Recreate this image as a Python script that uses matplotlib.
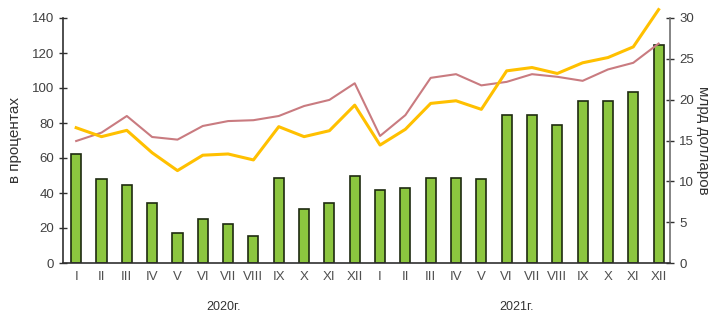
import matplotlib
matplotlib.use("Agg")
import matplotlib.pyplot as plt
import numpy as np

plt.rcParams["font.family"] = ["Liberation Sans", "DejaVu Sans"]

months = ["I", "II", "III", "IV", "V", "VI", "VII", "VIII", "IX", "X", "XI", "XII"]
labels = months + months
years = ["2020г.", "2021г."]

# bars, billion dollars (right axis)
bars_bn = [13.4, 10.3, 9.5, 7.4, 3.7, 5.4, 4.8, 3.25, 10.4, 6.6, 7.4, 10.7,
           8.95, 9.15, 10.4, 10.4, 10.3, 18.1, 18.1, 16.85, 19.85, 19.85, 20.95, 26.65]
# lines, percent (left axis)
red_pct = [69.7, 74.5, 84.0, 72.0, 70.5, 78.3, 81.1, 81.6, 84.0, 89.7, 93.2, 102.7,
           72.6, 84.5, 105.8, 107.9, 101.5, 103.5, 107.9, 106.4, 104.1, 110.6, 114.4, 125.4]
yellow_pct = [77.3, 72.2, 75.8, 63.0, 52.8, 61.6, 62.3, 58.9, 77.9, 72.2, 75.6, 90.2,
              67.4, 76.4, 91.2, 92.7, 87.8, 109.8, 111.7, 108.3, 114.4, 117.4, 123.5, 144.8]

fig = plt.figure(figsize=(7.11, 3.12), dpi=100)
ax = fig.add_axes([63/711, 1-263/312, (670-63)/711, (263-18)/312])
ax2 = ax.twinx()

x = np.arange(len(labels))
ax2.bar(x, bars_bn, width=0.4, color="#8cc63f", edgecolor="#1e2a10", linewidth=1.2, zorder=2)
ax.plot(x, red_pct, color="#c97b80", lw=1.5, zorder=3, clip_on=False)
ax.plot(x, yellow_pct, color="#ffc000", lw=2.2, zorder=4, clip_on=False)
ax.set_zorder(ax2.get_zorder() + 1)
ax.patch.set_visible(False)

ax.set_xlim(-0.52, 23.45)
ax.set_ylim(0, 140)
ax2.set_ylim(0, 30)
ax.set_yticks(range(0, 141, 20))
ax2.set_yticks(range(0, 31, 5))
ax.set_xticks(x)
ax.set_xticklabels(labels, fontsize=9.5, color="#505050")
ax.tick_params(axis="x", length=0, pad=6)
ax.tick_params(axis="y", direction="inout", length=6, width=1, labelsize=9.5, labelcolor="#404040", color="#303030")
ax2.tick_params(axis="y", direction="inout", length=6, width=1, labelsize=9.5, labelcolor="#404040", color="#303030")

for a in (ax, ax2):
    a.spines["top"].set_visible(False)
ax.spines["right"].set_visible(False)
ax2.spines["left"].set_visible(False)
ax.spines["left"].set_color("#303030")
ax2.spines["right"].set_color("#707070")
ax.spines["bottom"].set_color("#303030")
ax2.spines["bottom"].set_visible(False)
ax.spines["left"].set_linewidth(1.2)
ax2.spines["right"].set_linewidth(1.2)
ax.spines["bottom"].set_linewidth(1.2)

fig.text(15/711, 1-140/312, "в процентах", rotation=90, ha="center", va="center", fontsize=11, color="#333333")
fig.text(703/711, 1-140/312, "млрд долларов", rotation=-90, ha="center", va="center", fontsize=11, color="#333333")

fig.text(224/711, 1-307/312, years[0], ha="center", va="center", fontsize=9, color="#333333")
fig.text(517/711, 1-307/312, years[1], ha="center", va="center", fontsize=9, color="#333333")

fig.savefig("out.png", dpi=100)
